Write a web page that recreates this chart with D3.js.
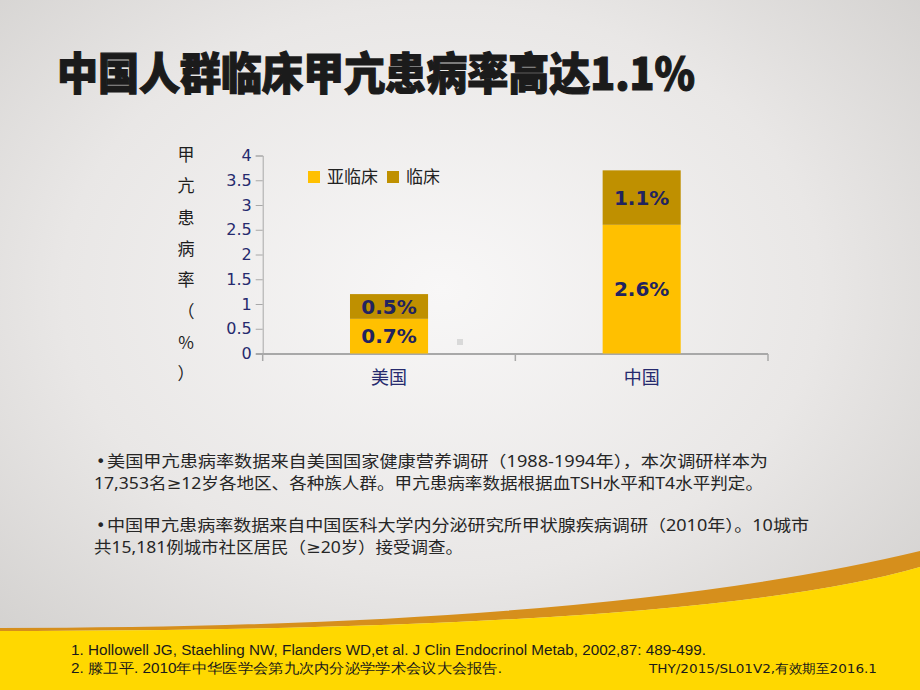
<!DOCTYPE html>
<html>
<head>
<meta charset="utf-8">
<script src="https://cdn.jsdelivr.net/npm/d3@7/dist/d3.min.js"></script>
<style>
    body { margin: 0; background: #fff; }
    svg { display: block; }
</style>
</head>
<body>
<div id="chart"></div>
<script>
// chart data
var categories = ["美国", "中国"];
var seriesNames = ["亚临床", "临床"];
var subclinical = [0.7, 2.6];
var clinical = [0.5, 1.1];
var yTicks = [0, 0.5, 1, 1.5, 2, 2.5, 3, 3.5, 4];
var yTitleChars = ["甲", "亢", "患", "病", "率", "（", "%", "）"];

var titleText = "中国人群临床甲亢患病率高达1.1%";
var notes = [
    "美国甲亢患病率数据来自美国国家健康营养调研（1988-1994年），本次调研样本为",
    "17,353名≥12岁各地区、各种族人群。甲亢患病率数据根据血TSH水平和T4水平判定。",
    "中国甲亢患病率数据来自中国医科大学内分泌研究所甲状腺疾病调研（2010年）。10城市",
    "共15,181例城市社区居民（≥20岁）接受调查。"
];
var noteBullet = [true, false, true, false];
var refs = [
    "1. Hollowell JG, Staehling NW, Flanders WD,et al. J Clin Endocrinol Metab, 2002,87: 489-499.",
    "2. 滕卫平. 2010年中华医学会第九次内分泌学学术会议大会报告."
];
var codeText = "THY/2015/SL01V2,有效期至2016.1";

var W = 920, H = 690;
var colors = ["#FFC000", "#BF9000"];
var navy = "#262a6e";
var cjk = "'Noto Sans CJK SC', 'Noto Sans', sans-serif";

var svg = d3.select("#chart").append("svg").attr("width", W).attr("height", H);

// background
var defs = svg.append("defs");
var bg = defs.append("radialGradient").attr("id", "bg")
    .attr("cx", "48%").attr("cy", "42%").attr("r", "75%");
bg.append("stop").attr("offset", "0%").attr("stop-color", "#f8f7f7");
bg.append("stop").attr("offset", "55%").attr("stop-color", "#e9e7e6");
bg.append("stop").attr("offset", "100%").attr("stop-color", "#cfcdcb");
svg.append("rect").attr("width", W).attr("height", H).attr("fill", "url(#bg)");

// bottom yellow band
svg.append("path").attr("d", "M0,628 Q600,628 920,551 L920,567 Q700,631 0,631 Z").attr("fill", "#D68F1C");
svg.append("path").attr("d", "M0,631 Q700,631 920,567 L920,690 L0,690 Z").attr("fill", "#FFD800");

// title
svg.append("text")
    .attr("x", 57).attr("y", 90)
    .attr("textLength", 638).attr("lengthAdjust", "spacingAndGlyphs")
    .style("font-family", cjk).style("font-size", "44px").style("font-weight", 900)
    .attr("fill", "#1b1b1b").attr("stroke", "#1b1b1b").attr("stroke-width", 1.2)
    .text(titleText);

// scales
var x = d3.scaleBand().domain(categories).range([262.7, 768])
    .paddingInner(0.691).paddingOuter(0.3455);
var y = d3.scaleLinear().domain([0, 4]).range([353.5, 155.5]);

var rows = categories.map(function(c, i){
    return {cat: c, "亚临床": subclinical[i], "临床": clinical[i]};
});
var stacked = d3.stack().keys(seriesNames)(rows);

// y axis
var yAxis = svg.append("g").attr("transform", "translate(262.7,0)")
    .call(d3.axisLeft(y).tickValues(yTicks).tickSize(7).tickPadding(4).tickFormat(d3.format("")));
yAxis.select(".domain").attr("stroke", "#a8a8a8");
yAxis.selectAll(".tick line").attr("stroke", "#a8a8a8");
yAxis.selectAll(".tick text")
    .style("font-family", "'DejaVu Sans', sans-serif").style("font-size", "16px").attr("fill", navy);

// x axis
var xAxisG = svg.append("g").attr("transform", "translate(0,354)");
xAxisG.append("line").attr("x1", 256).attr("x2", 768).attr("stroke", "#a8a8a8").attr("stroke-width", 2);
xAxisG.selectAll("line.tk").data([262.7, 515.35, 768]).enter().append("line")
    .attr("class", "tk").attr("x1", function(d){ return d; }).attr("x2", function(d){ return d; })
    .attr("y1", 0).attr("y2", 7).attr("stroke", "#a8a8a8").attr("stroke-width", 1.5);
xAxisG.selectAll("text").data(categories).enter().append("text")
    .attr("x", function(d){ return x(d) + x.bandwidth()/2; }).attr("y", 30)
    .attr("text-anchor", "middle")
    .style("font-family", cjk).style("font-size", "18px").attr("fill", navy)
    .text(function(d){ return d; });

// bars
var layers = svg.selectAll("g.layer").data(stacked).enter().append("g")
    .attr("class", "layer").attr("fill", function(d, i){ return colors[i]; });
layers.selectAll("rect").data(function(d){ return d; }).enter().append("rect")
    .attr("x", function(d){ return x(d.data.cat); })
    .attr("width", x.bandwidth())
    .attr("y", function(d){ return y(d[1]); })
    .attr("height", function(d){ return y(d[0]) - y(d[1]); });
layers.selectAll("text").data(function(d){ return d; }).enter().append("text")
    .attr("x", function(d){ return x(d.data.cat) + x.bandwidth()/2; })
    .attr("y", function(d){ return (y(d[0]) + y(d[1]))/2; })
    .attr("dy", "0.36em").attr("text-anchor", "middle")
    .style("font-family", "'DejaVu Sans', sans-serif").style("font-size", "20px").style("font-weight", "bold")
    .attr("fill", "#21235f")
    .text(function(d){ return (d[1] - d[0]).toFixed(1) + "%"; });

// small marker left in the plot area
svg.append("rect").attr("x", 457).attr("y", 339).attr("width", 6).attr("height", 6).attr("fill", "#d9d9d9");

// legend
var legend = svg.append("g");
var legX = [308, 387];
seriesNames.forEach(function(s, i){
    legend.append("rect").attr("x", legX[i]).attr("y", 171).attr("width", 12).attr("height", 12).attr("fill", colors[i]);
    legend.append("text").attr("x", legX[i] + 19).attr("y", 183)
        .style("font-family", cjk).style("font-size", "17px").attr("fill", "#222")
        .text(s);
});

// y title, one char per line
svg.append("g").selectAll("text").data(yTitleChars).enter().append("text")
    .attr("x", 186).attr("y", function(d, i){ return 155 + i*31.3; })
    .attr("dy", "0.36em").attr("text-anchor", "middle")
    .style("font-family", cjk).style("font-size", "17px").attr("fill", "#1e1e1e")
    .text(function(d){ return d; });

// notes
var noteX = [107, 94, 107, 94];
var noteY = [467, 489, 531, 553];
var noteW = [661, 669, 702, 369];
var notesG = svg.append("g");
notesG.selectAll("text.note").data(notes).enter().append("text")
    .attr("class", "note")
    .attr("x", function(d, i){ return noteX[i]; })
    .attr("y", function(d, i){ return noteY[i]; })
    .attr("textLength", function(d, i){ return noteW[i]; }).attr("lengthAdjust", "spacingAndGlyphs")
    .style("font-family", "'Noto Sans', 'DejaVu Sans', 'Noto Sans CJK SC', sans-serif").style("font-size", "16px").attr("fill", "#262626")
    .text(function(d){ return d; });
notesG.selectAll("text.bullet").data(noteY.filter(function(d, i){ return noteBullet[i]; })).enter().append("text")
    .attr("class", "bullet").attr("x", 96).attr("y", function(d){ return d; })
    .style("font-family", "'DejaVu Sans', sans-serif").style("font-size", "16px").attr("fill", "#262626")
    .text("•");

// references
var refY = [655, 673];
var refW = [635, 431];
svg.append("g").selectAll("text").data(refs).enter().append("text")
    .attr("x", 71).attr("y", function(d, i){ return refY[i]; })
    .attr("textLength", function(d, i){ return refW[i]; }).attr("lengthAdjust", "spacingAndGlyphs")
    .style("font-family", "'Liberation Sans', Arial, sans-serif").style("font-size", "14px").attr("fill", "#1a1a1a")
    .text(function(d){ return d; });
svg.append("text").attr("x", 649).attr("y", 673)
    .attr("textLength", 228).attr("lengthAdjust", "spacingAndGlyphs")
    .style("font-family", "'DejaVu Sans', sans-serif").style("font-size", "13px").attr("fill", "#1a1a1a")
    .text(codeText);
</script>
</body>
</html>
